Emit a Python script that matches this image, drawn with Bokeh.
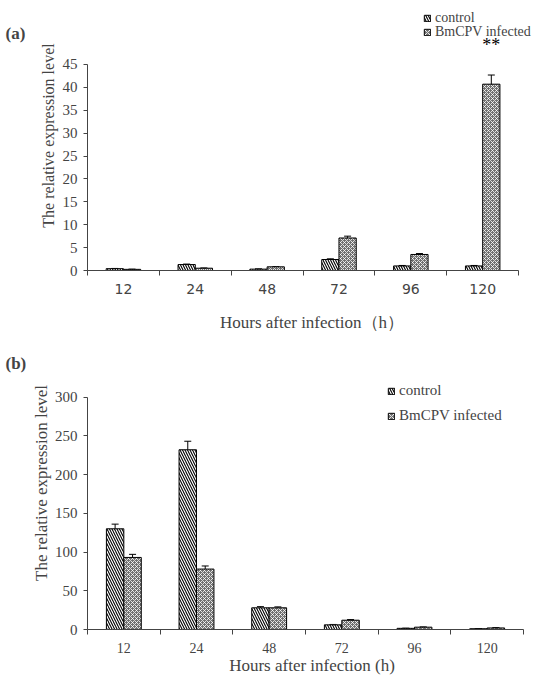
from bokeh.plotting import figure
from bokeh.layouts import column, row
from bokeh.models import (ColumnDataSource, Legend, LegendItem, Label, FixedTicker,
                          Whisker, Range1d)
from bokeh.core.properties import value
from bokeh.embed import file_html
from bokeh.resources import INLINE

hours = ["12", "24", "48", "72", "96", "120"]

# panel (a)
a_control = [0.4, 1.3, 0.3, 2.4, 1.0, 1.0]
a_control_err = [0.05, 0.1, 0.05, 0.15, 0.1, 0.1]
a_infected = [0.25, 0.5, 0.8, 7.1, 3.5, 40.7]
a_infected_err = [0.05, 0.05, 0.05, 0.4, 0.2, 2.0]
a_sig = ["", "", "", "", "", "**"]

# panel (b)
b_control = [130, 232, 28, 6, 1.5, 1.0]
b_control_err = [6, 11, 1.5, 0.5, 0.2, 0.2]
b_infected = [93, 78, 28, 12, 3, 2]
b_infected_err = [4, 4, 1.2, 0.8, 0.3, 0.3]

panel_tags = ["(a)", "(b)"]

SERIF = "Liberation Serif"
BW = 0.24
TAG_W = 26
MAIN_W = 536 - TAG_W


def make_panel(control, cerr, infected, ierr, ymax, yend, xend, yticks, height,
               left_border, bottom_border, legend_locs, legend_font, xtick_font,
               xlabel, ylabel_size, ylabel_standoff, sig=None):
    p = figure(width=MAIN_W, height=height, output_backend="svg",
               toolbar_location=None,
               x_range=Range1d(0, xend), y_range=Range1d(0, yend),
               min_border_left=left_border, min_border_right=0, min_border_top=0,
               min_border_bottom=bottom_border)
    p.outline_line_color = None
    p.grid.grid_line_color = None
    n = len(hours)
    centers = [i + 0.5 for i in range(n)]
    src = ColumnDataSource(dict(
        xc=[c - BW / 2 for c in centers], xi=[c + BW / 2 for c in centers],
        c=control, i=infected,
        c_up=[v + e for v, e in zip(control, cerr)],
        c_lo=[v - e for v, e in zip(control, cerr)],
        i_up=[v + e for v, e in zip(infected, ierr)],
        i_lo=[v - e for v, e in zip(infected, ierr)],
    ))
    r1 = p.vbar(x="xc", top="c", width=BW, source=src, fill_color="white",
                line_color="black", line_width=1, hatch_pattern="\\",
                hatch_color="black", hatch_scale=5, hatch_weight=1.1)
    r2 = p.vbar(x="xi", top="i", width=BW, source=src, fill_color="#707070",
                line_color="black", line_width=1, hatch_pattern="x",
                hatch_color="white", hatch_scale=4, hatch_weight=0.8)
    for up, lo, xx in (("c_up", "c_lo", "xc"), ("i_up", "i_lo", "xi")):
        w = Whisker(base=xx, upper=up, lower=lo, source=src, line_color="black",
                    line_width=1)
        w.upper_head.size = 7
        w.lower_head.size = 7
        w.upper_head.line_color = "black"
        w.lower_head.line_color = "black"
        p.add_layout(w)
    if sig is not None:
        ss = ColumnDataSource(dict(x=[c + BW / 2 for c in centers],
                                   y=[v + e for v, e in zip(infected, ierr)], t=sig))
        p.text(x="x", y="y", text="t", source=ss, text_align="center",
               text_baseline="bottom", y_offset=-20, text_font=value(SERIF),
               text_font_size="18px", text_color="black")

    p.xaxis.ticker = FixedTicker(ticks=centers, minor_ticks=list(range(n + 1)))
    p.xaxis.bounds = (0, n)
    p.xaxis.major_label_overrides = {c: h for c, h in zip(centers, hours)}
    p.xaxis.major_tick_out = 0
    p.xaxis.major_tick_in = 0
    p.xaxis.minor_tick_out = 5
    p.xaxis.minor_tick_in = 0
    p.xaxis.major_label_text_font = xtick_font
    p.xaxis.major_label_text_font_size = "14px"
    p.xaxis.axis_label = xlabel
    p.xaxis.axis_label_text_font = SERIF
    p.xaxis.axis_label_text_font_style = "normal"
    p.xaxis.axis_label_text_font_size = "17px"
    p.xaxis.axis_line_color = "#444444"
    p.xaxis.minor_tick_line_color = "#444444"

    p.yaxis.ticker = FixedTicker(ticks=yticks)
    p.yaxis.bounds = (0, ymax)
    p.yaxis.major_tick_out = 4
    p.yaxis.major_tick_in = 0
    p.yaxis.minor_tick_out = 0
    p.yaxis.minor_tick_in = 0
    p.yaxis.major_label_text_font = SERIF
    p.yaxis.major_label_text_font_size = "15px"
    p.yaxis.major_label_standoff = 6
    p.yaxis.axis_label = "The relative expression level"
    p.yaxis.axis_label_text_font = SERIF
    p.yaxis.axis_label_text_font_style = "normal"
    p.yaxis.axis_label_text_font_size = ylabel_size
    p.yaxis.axis_label_standoff = ylabel_standoff
    p.yaxis.axis_line_color = "#444444"
    p.yaxis.major_tick_line_color = "#444444"

    for lab, rend, loc in (("control", r1, legend_locs[0]),
                           ("BmCPV infected", r2, legend_locs[1])):
        lg = Legend(items=[LegendItem(label=lab, renderers=[rend])],
                    location=loc, orientation="vertical",
                    background_fill_alpha=0, border_line_color=None,
                    glyph_width=8, glyph_height=8, label_height=8,
                    label_text_font=SERIF, label_text_font_size=legend_font,
                    label_standoff=4, spacing=0, padding=0, margin=0)
        p.add_layout(lg, "center")
    return p


# panel (a): 0 at y=270px, 45 at y=64px; categories span page x=84..518
pa = make_panel(a_control, a_control_err, a_infected, a_infected_err,
                ymax=45, yend=58.98, xend=6.249, yticks=list(range(0, 46, 5)),
                height=336, left_border=84 - TAG_W, bottom_border=66,
                legend_locs=[(336, 244), (336, 230)], legend_font="14px",
                xtick_font="DejaVu Sans", xlabel="Hours after infection（h）",
                ylabel_size="16px", ylabel_standoff=3, sig=a_sig)
pa.xaxis.major_label_standoff = 8
pa.xaxis.axis_label_standoff = 16

# panel (b): 0 at y=295px, 300 at y=61px (figure coords); categories span page x=87..523
pb = make_panel(b_control, b_control_err, b_infected, b_infected_err,
                ymax=300, yend=378.2, xend=6.179, yticks=list(range(0, 301, 50)),
                height=341, left_border=87 - TAG_W, bottom_border=46,
                legend_locs=[(300, 230), (300, 205)], legend_font="15px",
                xtick_font=SERIF, xlabel="Hours after infection (h)",
                ylabel_size="17px", ylabel_standoff=1)
pb.xaxis.major_label_standoff = 8
pb.xaxis.axis_label_standoff = 0

# narrow strip on the left carrying the panel letters
tags = figure(width=TAG_W, height=677, output_backend="svg", toolbar_location=None,
              x_axis_location=None, y_axis_location=None,
              min_border_left=0, min_border_right=0, min_border_top=0,
              min_border_bottom=0)
tags.outline_line_color = None
tags.grid.grid_line_color = None
for tag, ty in zip(panel_tags, [677 - 33, 677 - 363]):
    tags.add_layout(Label(x=5, y=ty, x_units="screen", y_units="screen", text=tag,
                          text_font=SERIF, text_font_style="bold",
                          text_font_size="17px", text_baseline="middle"))

layout = row(tags, column(pa, pb, spacing=0), spacing=0)
open("out.html", "w").write(file_html(layout, INLINE))
